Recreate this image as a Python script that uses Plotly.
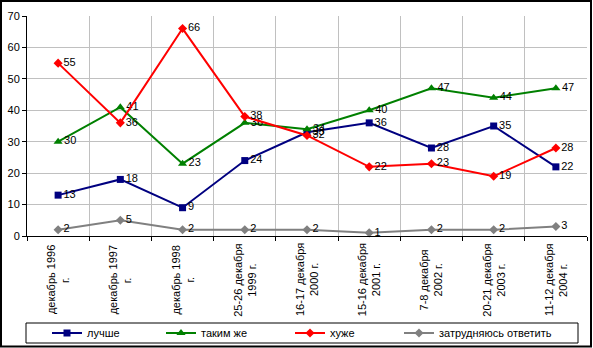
import plotly.graph_objects as go

cat_line1 = ["декабрь 1996", "декабрь 1997", "декабрь 1998", "25-26 декабря", "16-17 декабря",
             "15-16 декабря", "7-8 декабря", "20-21 декабря", "11-12 декабря"]
cat_line2 = ["г.", "г.", "г.", "1999 г.", "2000 г.", "2001 г.", "2002 г.", "2003 г.", "2004 г."]
better = [13, 18, 9, 24, 33, 36, 28, 35, 22]
same = [30, 41, 23, 36, 34, 40, 47, 44, 47]
worse = [55, 36, 66, 38, 32, 22, 23, 19, 28]
hard = [2, 5, 2, 2, 2, 1, 2, 2, 3]
y_ticks = [0, 10, 20, 30, 40, 50, 60, 70]

W, H = 593, 348
L, R, T, B = 27, 6, 16, 112
PW, PH = W - L - R, H - T - B

def px_x(p):
    return (p - L) / PW

def px_y(p):
    return (H - B - p) / PH

x = list(range(len(cat_line1)))
cat_px = PW / len(cat_line1)
font = dict(family="Liberation Sans, Arial, sans-serif", size=11, color="black")

series = [
    ("лучше", better, "#000080", "square", 7, 52),
    ("таким же", same, "#008000", "triangle-up", 8, 166),
    ("хуже", worse, "#FF0000", "diamond", 7, 295),
    ("затрудняюсь ответить", hard, "#808080", "diamond", 7, 404),
]

fig = go.Figure()
legends = {}
for k, (name, vals, col, sym, sz, lx) in enumerate(series):
    lname = "legend" if k == 0 else f"legend{k + 1}"
    fig.add_trace(go.Scatter(
        x=x, y=vals, name=name, mode="lines+markers+text",
        line=dict(color=col, width=2),
        marker=dict(color=col, symbol=sym, size=sz),
        text=[str(v) for v in vals], textposition="middle right",
        textfont=font, cliponaxis=False, legend=lname,
    ))
    legends[lname] = dict(orientation="h", x=px_x(lx - 5), y=px_y(333), xanchor="left",
                          yanchor="middle", font=font, bgcolor="rgba(0,0,0,0)", borderwidth=0,
                          itemwidth=30)

off = 7 / cat_px
annotations = []
for i, a, b in zip(x, cat_line1, cat_line2):
    for dx, t in ((-off, a), (off, b)):
        annotations.append(dict(x=i + dx, xref="x", y=px_y(280), yref="paper", text=t,
                                showarrow=False, textangle=-90, xanchor="center",
                                yanchor="middle", font=font))

fig.update_layout(
    width=W, height=H,
    margin=dict(l=L, r=R, t=T, b=B, pad=0, autoexpand=False),
    paper_bgcolor="white", plot_bgcolor="white",
    font=font,
    showlegend=True,
    **legends,
    xaxis=dict(range=[-0.5, len(x) - 0.5], tickvals=x, showticklabels=False,
               ticks="", showgrid=False, showline=True, linecolor="black", automargin=False,
               linewidth=1, zeroline=False,
               minor=dict(tickvals=[i + 0.5 for i in range(-1, len(x))], showgrid=True,
                          gridcolor="#C0C0C0", gridwidth=1, ticks="outside", ticklen=4,
                          tickcolor="black")),
    yaxis=dict(range=[0, 70], tickvals=y_ticks, showgrid=True, gridcolor="#C0C0C0", gridwidth=1,
               ticks="outside", ticklen=4, tickcolor="black", showline=True, linecolor="black",
               linewidth=1, zeroline=False, tickfont=font, automargin=False),
    annotations=annotations,
    shapes=[
        dict(type="rect", xref="paper", yref="paper", x0=px_x(26), x1=px_x(578),
             y0=px_y(323), y1=px_y(343), line=dict(color="black", width=1)),
        dict(type="rect", xref="paper", yref="paper", x0=px_x(1), x1=px_x(591),
             y0=px_y(1), y1=px_y(346.5), line=dict(color="black", width=2)),
    ],
)

fig.write_html("out.html")
